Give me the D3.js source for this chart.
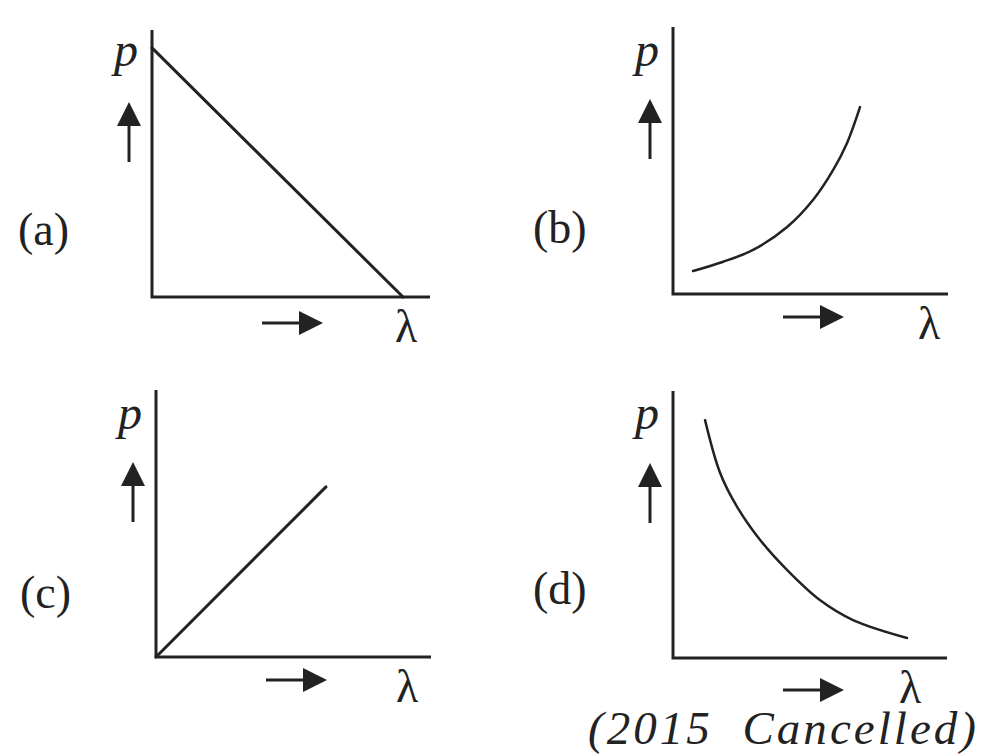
<!DOCTYPE html>
<html>
<head>
<meta charset="utf-8">
<script src="https://cdn.jsdelivr.net/npm/d3@7"></script>
<style>
  body { margin: 0; background: #fff; }
  svg { display: block; }
  text { font-family: "Liberation Serif", "DejaVu Serif", serif; fill: #222; }
</style>
</head>
<body>
<div id="chart"></div>
<script>
// Panel letters and the curve of each panel (lambda on x, p on y, both 0..10 along the axis)
const panelLabels = ["(a)", "(b)", "(c)", "(d)"];
const curveA = [[0, 9.33], [9.03, 0]];
const curveB = [[0.73, 0.86], [1.8, 1.2], [2.91, 1.65], [4.15, 2.51], [5.09, 3.52], [5.82, 4.64], [6.33, 5.66], [6.8, 7.0]];
const curveC = [[0, 0], [6.18, 6.37]];
const curveD = [[1.17, 8.91], [1.72, 6.93], [2.34, 5.66], [3.18, 4.42], [4.16, 3.30], [5.36, 2.17], [6.57, 1.42], [8.54, 0.75]];
const curves = [curveA, curveB, curveC, curveD];
const xLabel = "λ", yLabel = "p";
const note = "(2015  Cancelled)";

const W = 981, H = 756;
const ink = "#222";

// where each panel sits on the page
const layout = [
  { ox: 152, oy: 297, top: 30,  right: 430, lx: 18,  ly: 229, arrowDy: 26, lamDx: 243, pDy: 36 },
  { ox: 673, oy: 294, top: 27,  right: 948, lx: 533, ly: 227, arrowDy: 23, lamDx: 245, pDy: 39 },
  { ox: 156, oy: 657, top: 390, right: 431, lx: 20,  ly: 592, arrowDy: 23, lamDx: 240, pDy: 39 },
  { ox: 673, oy: 658, top: 391, right: 947, lx: 533, ly: 588, arrowDy: 32, lamDx: 226, pDy: 38 }
];

const svg = d3.select("#chart").append("svg")
    .attr("width", W)
    .attr("height", H);

function arrowHead(g, tipX, tipY, dir) {
    // filled triangle, 24 long, 12 half-width
    let pts;
    if (dir === "up") pts = [[tipX, tipY], [tipX - 12, tipY + 24], [tipX + 12, tipY + 24]];
    else pts = [[tipX, tipY], [tipX - 24, tipY - 12], [tipX - 24, tipY + 12]];
    g.append("path")
        .attr("d", d3.line()(pts) + "Z")
        .attr("fill", ink);
}

curves.forEach((data, i) => {
    const L = layout[i];
    const g = svg.append("g");

    const x = d3.scaleLinear().domain([0, 10]).range([L.ox, L.right]);
    const y = d3.scaleLinear().domain([0, 10]).range([L.oy, L.top]);

    // axes
    g.append("path")
        .attr("d", d3.line()([[L.ox, L.top], [L.ox, L.oy], [L.right, L.oy]]))
        .attr("fill", "none")
        .attr("stroke", ink)
        .attr("stroke-width", 3)
        .attr("stroke-linejoin", "miter");

    // the curve
    const line = d3.line()
        .x(d => x(d[0]))
        .y(d => y(d[1]))
        .curve(data.length > 2 ? d3.curveCatmullRom.alpha(0.5) : d3.curveLinear);
    g.append("path")
        .datum(data)
        .attr("d", line)
        .attr("fill", "none")
        .attr("stroke", ink)
        .attr("stroke-width", i % 2 === 0 ? 3 : 2.5)
        .attr("stroke-linecap", "round");

    // p label and upward arrow
    g.append("text")
        .attr("x", L.ox - 38)
        .attr("y", L.top + L.pDy)
        .style("font-size", "48px")
        .style("font-style", "italic")
        .text(yLabel);
    const ax = L.ox - 23;
    g.append("line")
        .attr("x1", ax).attr("x2", ax)
        .attr("y1", L.top + 132).attr("y2", L.top + 92)
        .attr("stroke", ink).attr("stroke-width", 3);
    arrowHead(g, ax, L.top + 72, "up");

    // lambda label and rightward arrow
    const ay = L.oy + L.arrowDy;
    g.append("line")
        .attr("x1", L.ox + 110).attr("x2", L.ox + 150)
        .attr("y1", ay).attr("y2", ay)
        .attr("stroke", ink).attr("stroke-width", 3);
    arrowHead(g, L.ox + 171, ay, "right");
    g.append("text")
        .attr("x", L.ox + L.lamDx)
        .attr("y", L.oy + 45)
        .style("font-size", "46px")
        .text(xLabel);

    // panel letter
    g.append("text")
        .attr("x", L.lx)
        .attr("y", L.ly)
        .attr("dominant-baseline", "central")
        .style("font-size", "46px")
        .text(panelLabels[i]);
});

svg.append("text")
    .attr("x", 588)
    .attr("y", 744)
    .attr("textLength", 388)
    .attr("lengthAdjust", "spacing")
    .style("font-size", "47px")
    .style("font-style", "italic")
    .style("white-space", "pre")
    .text(note);
</script>
</body>
</html>
